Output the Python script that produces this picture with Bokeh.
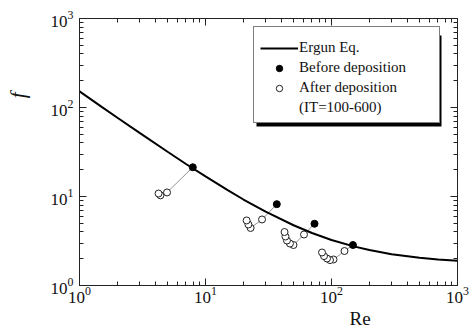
from bokeh.plotting import figure
from bokeh.models import LogAxis, FixedTicker, Legend, LegendItem, Title, BoxAnnotation
from bokeh.embed import file_html
from bokeh.resources import INLINE

# ---- tick values ----
major_ticks = [1, 10, 100, 1000]
minor_ticks = [2, 3, 4, 5, 6, 7, 8, 9,
               20, 30, 40, 50, 60, 70, 80, 90,
               200, 300, 400, 500, 600, 700, 800, 900]

# ---- Ergun Eq. curve ----
re_ergun = [1, 1.5, 2, 3, 5, 7, 10, 15, 20, 30, 50, 70, 100, 150, 200, 300, 500, 700, 1000]
f_ergun = [151.8, 101.8, 76.8, 51.8, 31.8, 23.2, 16.8, 11.8, 9.25, 6.75, 4.75,
           3.89, 3.25, 2.75, 2.5, 2.25, 2.05, 1.96, 1.9]

# ---- Before deposition ----
re_before = [7.93, 36.8, 73.3, 148.0]
f_before = [21.3, 8.2, 4.94, 2.85]

# ---- After deposition (IT=100-600), group = index of the before point ----
re_after = [4.95, 4.39, 4.24,
            28.1, 22.8, 21.9, 21.2,
            60.5, 49.9, 46.8, 44.3, 43.1, 42.4,
            126.8, 103.7, 97.3, 92.1, 87.2, 84.1]
f_after = [11.1, 10.3, 10.8,
           5.52, 4.43, 4.85, 5.38,
           3.74, 2.85, 2.96, 3.20, 3.55, 3.99,
           2.44, 1.96, 1.93, 2.01, 2.14, 2.35]
group_after = [0, 0, 0,
               1, 1, 1, 1,
               2, 2, 2, 2, 2, 2,
               3, 3, 3, 3, 3, 3]

FONT = "Liberation Serif"

p = figure(width=473, height=330, x_axis_type="log", y_axis_type="log",
           x_range=(1, 1000), y_range=(1, 1000),
           output_backend="svg", toolbar_location=None,
           min_border_left=79, min_border_right=16,
           min_border_top=18, min_border_bottom=45)
p.xgrid.visible = False
p.ygrid.visible = False
p.outline_line_color = "#222222"
p.background_fill_color = "white"
p.border_fill_color = "white"


def style(ax, show_labels=True):
    ax.ticker = FixedTicker(ticks=major_ticks, minor_ticks=minor_ticks)
    ax.major_tick_in = 7
    ax.major_tick_out = 0
    ax.minor_tick_in = 4
    ax.minor_tick_out = 0
    ax.axis_line_color = "#222222"
    ax.major_tick_line_color = "#222222"
    ax.minor_tick_line_color = "#222222"
    ax.major_label_text_font = FONT
    ax.major_label_text_color = "#111111"
    if show_labels:
        ax.major_label_text_font_size = "17px"
    else:
        ax.major_label_text_font_size = "1px"
        ax.major_label_text_alpha = 0
        ax.major_label_standoff = 0


style(p.xaxis[0])
style(p.yaxis[0])
p.xaxis[0].major_label_standoff = 1
p.yaxis[0].major_label_standoff = 6

top_ax = LogAxis()
right_ax = LogAxis()
style(top_ax, False)
style(right_ax, False)
p.add_layout(top_ax, "above")
p.add_layout(right_ax, "right")

# blank spacer axis on the left (white outward ticks only), pushing the "f" title outward
spacer = LogAxis()
style(spacer, False)
spacer.axis_line_color = None
spacer.minor_tick_line_color = None
spacer.major_tick_in = 0
spacer.major_tick_out = 18
spacer.major_tick_line_color = "white"
p.add_layout(spacer, "left")

# axis titles placed off-centre like the reference
p.add_layout(Title(text="f", align="right", offset=74, standoff=0,
                   vertical_align="bottom",
                   text_font=FONT, text_font_style="italic",
                   text_font_size="21px", text_color="#111111"), "left")
p.add_layout(Title(text="Re", align="left", offset=270, standoff=0,
                   text_font=FONT, text_font_style="normal",
                   text_font_size="19px", text_color="#111111"), "below")

# ---- trajectories (before -> after points) ----
xs, ys = [], []
for g in range(len(re_before)):
    xs.append([re_before[g]] + [r for r, k in zip(re_after, group_after) if k == g])
    ys.append([f_before[g]] + [f for f, k in zip(f_after, group_after) if k == g])
p.multi_line(xs, ys, line_color="#777777", line_width=0.8)

r_curve = p.line(re_ergun, f_ergun, line_color="black", line_width=2)
r_after = p.scatter(re_after, f_after, marker="circle", size=7,
                    fill_color="white", line_color="#222222", line_width=1)
r_before = p.scatter(re_before, f_before, marker="circle", size=7,
                     fill_color="black", line_color="black")
r_blank = p.line([], [], line_alpha=0)

labels = ["Ergun Eq.", "Before deposition", "After deposition", "(IT=100-600)"]

# legend shadow (screen units, relative to the frame)
p.add_layout(BoxAnnotation(left=177, right=362, bottom=159, top=250,
                           left_units="screen", right_units="screen",
                           bottom_units="screen", top_units="screen",
                           fill_color="black", fill_alpha=1, line_color=None,
                           level="annotation"))

items = [LegendItem(label=lab, renderers=[r])
         for lab, r in zip(labels, [r_curve, r_before, r_after, r_blank])]
legend = Legend(items=items, location=(174, 162), margin=0, padding=6, spacing=3,
                glyph_width=38, glyph_height=16, label_height=16,
                label_width=134, label_standoff=1,
                label_text_font=FONT, label_text_font_size="15px",
                label_text_color="#111111",
                title=" ", title_text_font_size="5px", title_standoff=0,
                background_fill_color="white", background_fill_alpha=1,
                border_line_color="black", border_line_width=1)
p.add_layout(legend, "center")

open("out.html", "w").write(file_html(p, INLINE))
